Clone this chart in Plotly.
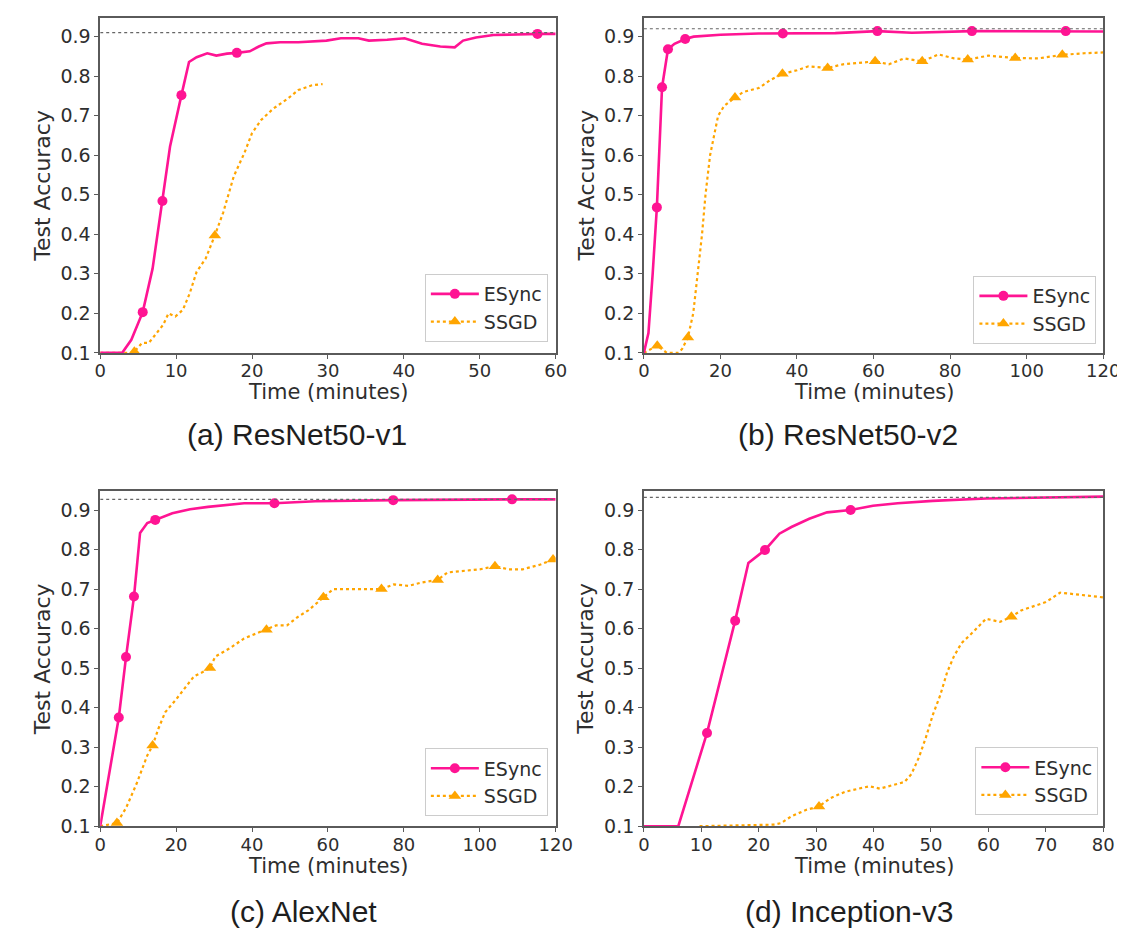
import plotly.graph_objects as go

W, H = 1125, 934

# ---------------- data ----------------
# (a) ResNet50-v1
a_esync_t = [0, 2.9, 4.1, 5.6, 6.9, 8.2, 9.2, 10.7, 11.7, 12.7, 14.1, 15.3, 16.7, 18.0, 19.7, 20.9,
             21.9, 23.7, 26.1, 29.8, 31.7, 34.0, 35.4, 37.8, 40.1, 42.4, 44.8, 46.7, 47.8, 49.5, 51.8, 57.6, 60]
a_esync_acc = [0.1, 0.1, 0.133, 0.203, 0.313, 0.484, 0.622, 0.752, 0.836, 0.848, 0.858, 0.852, 0.857, 0.859,
               0.863, 0.875, 0.883, 0.886, 0.886, 0.89, 0.896, 0.896, 0.89, 0.892, 0.896, 0.882, 0.875, 0.873,
               0.89, 0.898, 0.904, 0.907, 0.907]
a_esync_marks = [5.6, 8.2, 10.7, 18.0, 57.6]
a_ssgd_t = [0, 4.1, 4.5, 5.5, 6.4, 7.3, 8.3, 9.0, 9.9, 10.9, 11.8, 12.7, 13.9, 15.1, 16.2, 17.6, 19.0, 20.0,
            21.2, 22.8, 24.7, 26.1, 27.9, 29.3]
a_ssgd_acc = [0.1, 0.1, 0.103, 0.125, 0.125, 0.146, 0.171, 0.2, 0.192, 0.209, 0.251, 0.305, 0.339, 0.397,
              0.455, 0.547, 0.606, 0.656, 0.689, 0.718, 0.743, 0.765, 0.777, 0.78]
a_ssgd_marks = [4.5, 15.1]

# (b) ResNet50-v2
b_esync_t = [0, 1.2, 2.3, 3.4, 4.75, 6.3, 8, 10.8, 13, 20, 30, 36.3, 50, 61, 70, 85.7, 100, 110.2, 120]
b_esync_acc = [0.1, 0.15, 0.3, 0.468, 0.772, 0.868, 0.882, 0.894, 0.9, 0.905, 0.908, 0.908, 0.909, 0.914,
               0.91, 0.914, 0.913, 0.914, 0.913]
b_esync_marks = [3.4, 4.75, 6.3, 10.8, 36.3, 61, 85.7, 110.2]
b_ssgd_t = [0, 3.5, 6, 9, 10, 11.5, 12.9, 14, 15.2, 16.1, 17.3, 19.4, 21, 23.8, 26, 30, 33, 36.2, 40, 43,
            48, 52, 56, 60.4, 64, 68, 72.7, 77, 81, 84.6, 90, 97, 103, 109.3, 115, 120]
b_ssgd_acc = [0.1, 0.118, 0.1, 0.1, 0.11, 0.139, 0.2, 0.3, 0.4, 0.5, 0.6, 0.7, 0.725, 0.746, 0.76, 0.77,
              0.79, 0.806, 0.815, 0.825, 0.821, 0.83, 0.833, 0.8375, 0.83, 0.845, 0.8375, 0.855, 0.845,
              0.842, 0.852, 0.846, 0.845, 0.854, 0.858, 0.86]
b_ssgd_marks = [3.5, 11.5, 23.8, 36.2, 48, 60.4, 72.7, 84.6, 97, 109.3]

# (c) AlexNet
c_esync_t = [0, 2.5, 4.9, 6.8, 8.9, 9.8, 10.5, 12.4, 14.5, 19, 23.7, 28.4, 37.9, 45.9, 56.7, 77.2, 108.5, 120]
c_esync_acc = [0.1, 0.246, 0.375, 0.528, 0.681, 0.771, 0.842, 0.867, 0.875, 0.892, 0.902, 0.908, 0.917,
               0.917, 0.922, 0.925, 0.927, 0.927]
c_esync_marks = [4.9, 6.8, 8.9, 14.5, 45.9, 77.2, 108.5]
c_ssgd_t = [0, 4.4, 6.8, 9.6, 12.4, 13.8, 15.3, 17.1, 20, 22.8, 24.7, 27, 28.9, 30.3, 34.1, 37.9, 41.6,
            43.8, 46.3, 49.2, 52, 54.8, 58.8, 61.4, 65.2, 68.9, 74.1, 77.4, 81.2, 84.9, 88.9, 91.5, 96.2,
            100, 104, 107.5, 111.3, 116, 119.3]
c_ssgd_acc = [0.1, 0.108, 0.146, 0.208, 0.279, 0.304, 0.346, 0.388, 0.421, 0.454, 0.479, 0.49, 0.5, 0.529,
              0.55, 0.575, 0.59, 0.597, 0.608, 0.608, 0.629, 0.646, 0.679, 0.7, 0.7, 0.7, 0.7, 0.712, 0.708,
              0.717, 0.723, 0.742, 0.746, 0.75, 0.758, 0.75, 0.75, 0.762, 0.775]
c_ssgd_marks = [4.4, 13.8, 28.9, 43.8, 58.8, 74.1, 88.9, 104, 119.3]

# (d) Inception-v3
d_esync_t = [0, 6, 11, 15.9, 18.2, 21.1, 23.6, 25.7, 28.8, 31.9, 36, 39.9, 44.2, 50.3, 59.6, 68.8, 80]
d_esync_acc = [0.1, 0.1, 0.336, 0.62, 0.766, 0.799, 0.84, 0.857, 0.878, 0.894, 0.9, 0.911, 0.917, 0.923,
               0.929, 0.931, 0.934]
d_esync_marks = [11, 15.9, 21.1, 36]
d_ssgd_t = [9.7, 22.6, 23.9, 25.7, 28.2, 30.5, 32.5, 35, 37.4, 39.3, 41.1, 43, 45.4, 46.6, 47.9, 49.1, 50.3,
            51.6, 52.8, 54, 55.3, 57.1, 59.6, 62, 64, 65.7, 68.2, 70, 72.5, 75, 77.4, 80]
d_ssgd_acc = [0.1, 0.104, 0.108, 0.125, 0.141, 0.15, 0.171, 0.187, 0.195, 0.201, 0.195, 0.203, 0.212, 0.232,
              0.274, 0.324, 0.381, 0.431, 0.489, 0.53, 0.563, 0.588, 0.625, 0.617, 0.63, 0.646, 0.658, 0.667,
              0.691, 0.687, 0.683, 0.679]
d_ssgd_marks = [30.5, 64]

target_acc = [0.91, 0.92, 0.927, 0.932]
x_max = [60, 120, 120, 80]
x_step = [10, 20, 20, 10]
y_ticks = [0.1, 0.2, 0.3, 0.4, 0.5, 0.6, 0.7, 0.8, 0.9]
subtitles = ["(a) ResNet50-v1", "(b) ResNet50-v2", "(c) AlexNet", "(d) Inception-v3"]
series_names = ["ESync", "SSGD"]

panels = [
    (a_esync_t, a_esync_acc, a_esync_marks, a_ssgd_t, a_ssgd_acc, a_ssgd_marks),
    (b_esync_t, b_esync_acc, b_esync_marks, b_ssgd_t, b_ssgd_acc, b_ssgd_marks),
    (c_esync_t, c_esync_acc, c_esync_marks, c_ssgd_t, c_ssgd_acc, c_ssgd_marks),
    (d_esync_t, d_esync_acc, d_esync_marks, d_ssgd_t, d_ssgd_acc, d_ssgd_marks),
]

# ---------------- layout geometry (pixels) ----------------
cols_px = [(88, 553), (643, 1112)]
rows_px = [(10, 349), (489, 828)]
legend_px = [(545, 338), (1105, 340), (545, 818), (1107, 817)]
subtitle_px = [(289, 432), (851, 432), (296, 914), (852, 914)]

PINK = "#FF1493"
ORANGE = "#FFA500"
AXC = "#5a5a5a"
TXT = "#2e2e2e"
FONT = "DejaVu Sans"


def fx(p):
    return p / W


def fy(p):
    return 1 - p / H


fig = go.Figure()
annotations = []
layout = dict(width=W, height=H, margin=dict(l=0, r=0, t=0, b=0),
              paper_bgcolor="white", plot_bgcolor="white", showlegend=True)

for i, (et, ea, em, st, sa, sm) in enumerate(panels):
    col, row = i % 2, i // 2
    sfx = "" if i == 0 else str(i + 1)
    xa, ya = "x" + sfx, "y" + sfx
    leg = "legend" + sfx
    x0, x1 = cols_px[col]
    y0, y1 = rows_px[row]

    common = dict(showline=True, mirror=True, linecolor=AXC, linewidth=1.5,
                  ticks="outside", ticklen=4, tickwidth=1.3, tickcolor=AXC,
                  showgrid=False, zeroline=False,
                  tickfont=dict(family=FONT, size=18, color=TXT))
    layout["xaxis" + sfx] = dict(common, domain=[fx(x0), fx(x1)], anchor=ya,
                                 range=[0, x_max[i]], ticklabelstandoff=-3,
                                 tickvals=list(range(0, x_max[i] + 1, x_step[i])))
    layout["yaxis" + sfx] = dict(common, domain=[fy(y1), fy(y0)], anchor=xa,
                                 range=[0.0999, 0.9475], tickvals=y_ticks, tickformat=".1f",
                                 tickfont=dict(family=FONT, size=19, color=TXT))

    lx, ly = legend_px[i]
    layout[leg] = dict(x=fx(lx), y=fy(ly), xanchor="right", yanchor="bottom",
                       bgcolor="rgba(255,255,255,0.85)", bordercolor="#cccccc", borderwidth=1,
                       font=dict(family=FONT, size=19, color=TXT), traceorder="normal",
                       itemwidth=48)

    emap = dict(zip(et, ea))
    smap = dict(zip(st, sa))

    # SSGD
    fig.add_trace(go.Scatter(x=st, y=sa, mode="lines", xaxis=xa, yaxis=ya, showlegend=False,
                             line=dict(color=ORANGE, width=2.2, dash="dot"), hoverinfo="skip"))
    fig.add_trace(go.Scatter(x=sm, y=[smap[t] for t in sm], mode="markers", xaxis=xa, yaxis=ya,
                             showlegend=False, marker=dict(color=ORANGE, symbol="triangle-up", size=11)))
    # ESync
    fig.add_trace(go.Scatter(x=et, y=ea, mode="lines", xaxis=xa, yaxis=ya, showlegend=False,
                             line=dict(color=PINK, width=2.6), hoverinfo="skip"))
    fig.add_trace(go.Scatter(x=em, y=[emap[t] for t in em], mode="markers", xaxis=xa, yaxis=ya,
                             showlegend=False, marker=dict(color=PINK, symbol="circle", size=10)))
    # target accuracy (dotted)
    fig.add_trace(go.Scatter(x=[0, x_max[i]], y=[target_acc[i], target_acc[i]], mode="lines",
                             xaxis=xa, yaxis=ya, showlegend=False,
                             line=dict(color="#666666", width=1.2, dash="dot"), hoverinfo="skip"))
    # legend entries
    fig.add_trace(go.Scatter(x=[None], y=[None], mode="lines+markers", name=series_names[0],
                             xaxis=xa, yaxis=ya, legend=leg,
                             line=dict(color=PINK, width=2.6),
                             marker=dict(color=PINK, symbol="circle", size=10)))
    fig.add_trace(go.Scatter(x=[None], y=[None], mode="lines+markers", name=series_names[1],
                             xaxis=xa, yaxis=ya, legend=leg,
                             line=dict(color=ORANGE, width=2.2, dash="dot"),
                             marker=dict(color=ORANGE, symbol="triangle-up", size=11)))

    # axis titles
    annotations.append(dict(text="Test Accuracy", textangle=-90, xref="paper", yref="paper",
                            x=fx(x0 - 59), y=fy((y0 + y1) / 2), xanchor="center", yanchor="middle",
                            showarrow=False, font=dict(family=FONT, size=22, color=TXT)))
    annotations.append(dict(text="Time (minutes)", xref="paper", yref="paper",
                            x=fx((x0 + x1) / 2), y=fy(y1 + 40), xanchor="center", yanchor="middle",
                            showarrow=False, font=dict(family=FONT, size=21, color=TXT)))
    sx, sy = subtitle_px[i]
    annotations.append(dict(text=subtitles[i], xref="paper", yref="paper",
                            x=fx(sx), y=fy(sy), xanchor="center", yanchor="middle",
                            showarrow=False, font=dict(family="Liberation Sans", size=30, color="#1e1e1e")))

layout["annotations"] = annotations
fig.update_layout(**layout)
fig.write_html("out.html")
